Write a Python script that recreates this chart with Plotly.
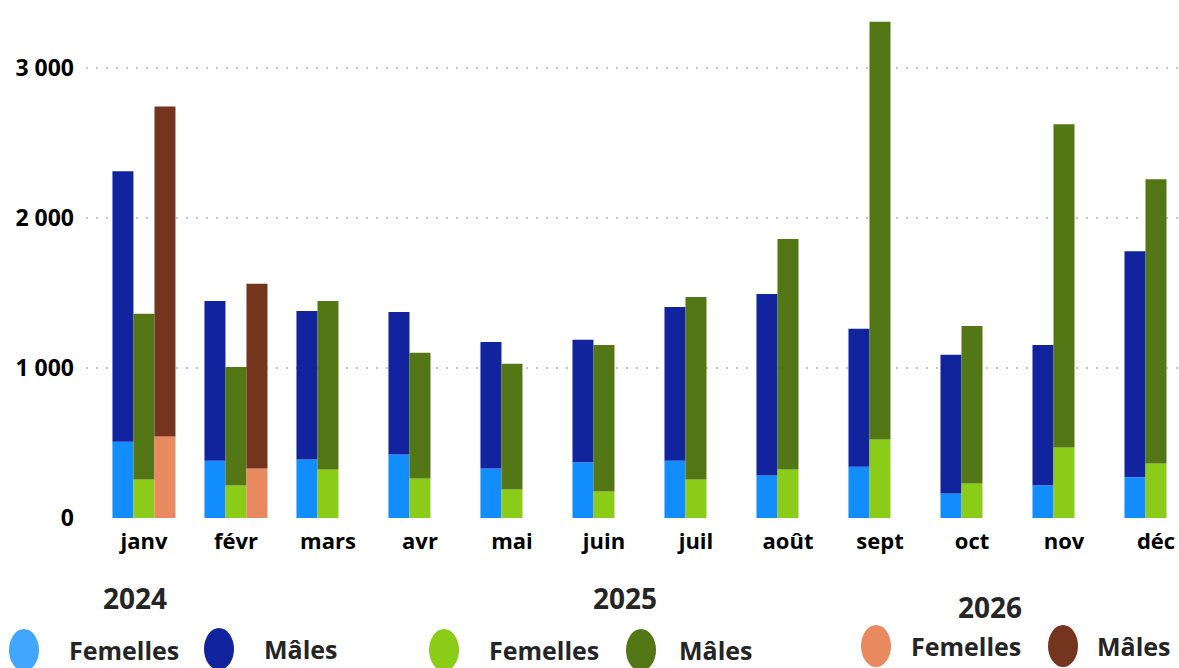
import plotly.graph_objects as go

months = ["janv", "févr", "mars", "avr", "mai", "juin", "juil", "août", "sept", "oct", "nov", "déc"]
years = ["2024", "2025", "2026"]

fem_2024 = [508, 382, 390, 423, 330, 371, 382, 283, 342, 164, 216, 271]
tot_2024 = [2311, 1447, 1380, 1373, 1173, 1188, 1406, 1494, 1261, 1088, 1154, 1779]
fem_2025 = [257, 216, 323, 264, 190, 176, 257, 323, 523, 230, 470, 363]
tot_2025 = [1361, 1007, 1447, 1102, 1029, 1154, 1473, 1860, 3309, 1280, 2625, 2259]
fem_2026 = [544, 330, None, None, None, None, None, None, None, None, None, None]
tot_2026 = [2743, 1561, None, None, None, None, None, None, None, None, None, None]

male_2024 = [t - f for t, f in zip(tot_2024, fem_2024)]
male_2025 = [t - f for t, f in zip(tot_2025, fem_2025)]
male_2026 = [(t - f) if t is not None else None for t, f in zip(tot_2026, fem_2026)]

series_names = ["Femelles", "Mâles"]
colors = {
    "2024": ["#118DFF", "#12239E"],
    "2025": ["#8ACC18", "#537714"],
    "2026": ["#E8895F", "#74341E"],
}
legend_colors = {
    "2024": ["#42A5FF", "#12239E"],
    "2025": ["#8ACC18", "#537714"],
    "2026": ["#E8895F", "#74341E"],
}
data = {
    "2024": (fem_2024, male_2024),
    "2025": (fem_2025, male_2025),
    "2026": (fem_2026, male_2026),
}

FONT = "Open Sans"

fig = go.Figure()
for y in years:
    fem, male = data[y]
    fig.add_trace(go.Bar(x=months, y=fem, name=series_names[0], offsetgroup=y,
                         marker=dict(color=colors[y][0], line=dict(width=0)),
                         showlegend=False))
    fig.add_trace(go.Bar(x=months, y=male, base=fem, name=series_names[1], offsetgroup=y,
                         marker=dict(color=colors[y][1], line=dict(width=0)),
                         showlegend=False))

# plot area geometry (pixels)
L, R, T, B = 86, 1179, 10, 518
W, H = R - L, B - T


def px(x):
    return (x - L) / W


def py(y):
    return (B - y) / H


# custom legend: year titles + circle markers + labels
legend_layout = {
    "2024": dict(title=(135, 598), items=[(24, 650, 124), (219, 649, 301)]),
    "2025": dict(title=(625, 598), items=[(444, 650, 544), (641, 650, 716)]),
    "2026": dict(title=(990, 607), items=[(876, 646, 966), (1063, 646, 1134)]),
}
shapes = []
annotations = []
for y in years:
    lay = legend_layout[y]
    tx, ty = lay["title"]
    annotations.append(dict(x=px(tx), y=py(ty), xref="paper", yref="paper", text="<b>" + y + "</b>",
                            showarrow=False, xanchor="center", yanchor="middle",
                            font=dict(family=FONT, size=28, color="#252525")))
    for i, (cx, cy, lx) in enumerate(lay["items"]):
        shapes.append(dict(type="circle", xref="paper", yref="paper",
                           x0=px(cx - 15), x1=px(cx + 15), y0=py(cy + 21), y1=py(cy - 21),
                           fillcolor=legend_colors[y][i], line=dict(width=0)))
        annotations.append(dict(x=px(lx), y=py(cy), xref="paper", yref="paper",
                                text="<b>" + series_names[i] + "</b>",
                                showarrow=False, xanchor="center", yanchor="middle",
                                font=dict(family=FONT, size=25, color="#252525")))

fig.update_layout(
    width=1179, height=668,
    margin=dict(l=L, r=1179 - R, t=T, b=668 - B),
    paper_bgcolor="white", plot_bgcolor="white",
    barmode="group", bargap=0.315, bargroupgap=0,
    separators=", ",
    showlegend=False,
    shapes=shapes, annotations=annotations,
    font=dict(family=FONT, color="black"),
)
fig.update_xaxes(type="category", range=[-0.63, 11.25], showgrid=False, showline=False,
                 ticks="", ticklabelstandoff=8,
                 tickfont=dict(family=FONT, size=22, color="black", weight="bold"))
fig.update_yaxes(range=[0, H / 150 * 1000], tickvals=[0, 1000, 2000, 3000], tickformat=",d",
                 showgrid=True, gridcolor="#C4C4C4", gridwidth=2, griddash="2px,8px",
                 zeroline=False, showline=False, ticks="", ticklabelstandoff=11,
                 tickfont=dict(family=FONT, size=23, color="black", weight="bold"))

fig.write_html("out.html", config={"displayModeBar": False},
               post_script="document.body.style.margin='0';document.body.style.overflow='hidden';")
